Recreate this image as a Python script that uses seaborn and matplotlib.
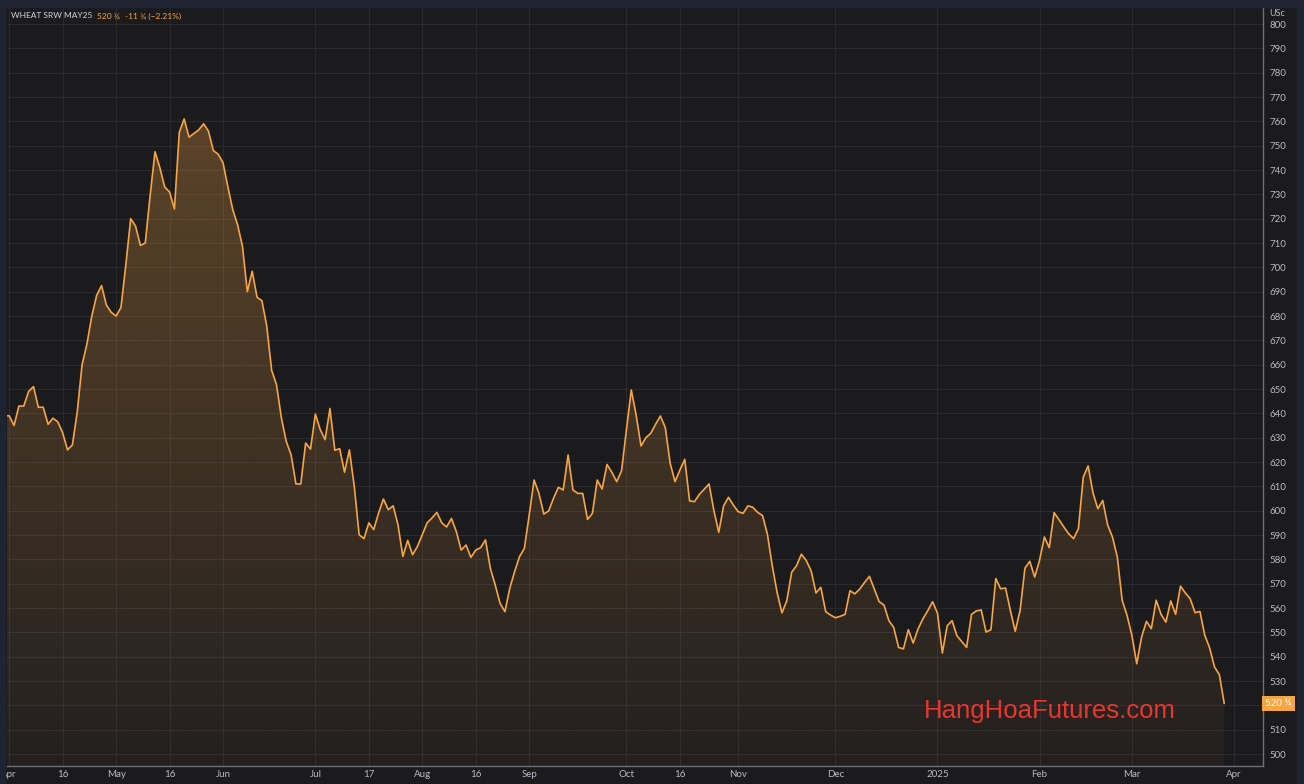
import numpy as np
import pandas as pd
import seaborn as sns
import matplotlib.pyplot as plt
from matplotlib.patches import Rectangle

# daily settlement, WHEAT SRW MAY25 (US cents), one value per trading session
mar_24 = [639]  # last session before the visible window
apr_24 = [639, 635, 643, 643, 649, 651, 642.5, 642.5, 635.5, 638, 636.5, 632, 625, 627, 640.5,
          660, 668.5, 680, 688.5, 692.5, 684.5, 681.5]
may_24 = [680, 683.5, 701, 720, 717, 709, 710, 729.5, 747.5, 741, 733, 731, 724, 755.5, 761,
          753.5, 755, 756.5, 759, 756, 748, 746.5]
jun_24 = [743, 733, 723.7, 717.5, 708.6, 690, 698.4, 687.7, 686.3, 675.8, 657.7, 651.8, 638.2,
          628.5, 623, 611, 611, 627.8, 625.3]
jul_24 = [639.7, 633.3, 629.2, 642, 624.8, 625.5, 615.8, 625, 610, 590.1, 588.5, 595, 592.2, 599,
          604.8, 600.4, 602, 594.2, 581.2, 587.8, 581.9, 585.3]
aug_24 = [590.1, 595, 597, 599.3, 595, 593.3, 596.8, 591.4, 583.8, 585.9, 580.8, 583.8, 584.8, 588,
          576.3, 569.5, 561.9, 558.5, 568.1, 575, 581.1, 584.5]
sep_24 = [598.2, 612.6, 607.1, 598.6, 599.9, 605.1, 609.6, 608.5, 622.9, 608.5, 607.1, 607.1,
          596.4, 598.9, 612.6, 608.9, 619, 615.8, 611.9, 616.4]
oct_24 = [633.2, 649.6, 639.3, 626.6, 630, 631.8, 635.5, 638.9, 634.1, 619.5, 611.9, 616.7, 621.1,
          604, 603.7, 606.7, 608.8, 611, 600, 591.1, 602, 605.5, 602.3]
nov_24 = [599.6, 598.9, 602, 601.4, 599.3, 598, 590.4, 577.4, 566.4, 558, 563, 574.7, 577.4, 582.1,
          579.5, 575.3, 566.2, 568.5, 558.5, 557.1]
dec_24 = [556, 556.6, 557.4, 567.1, 565.8, 567.8, 570.5, 573, 567.8, 562.6, 561.2, 554.8, 552,
          543.8, 543.2, 551.1, 545.6, 551.4, 555.5, 558.9, 562.6]
jan_25 = [557.9, 541.5, 552.7, 554.8, 548.6, 546.2, 543.8, 557.4, 558.8, 559.2, 550.1, 551.1, 572.1,
          567.9, 568.2, 559, 550.4, 559, 576.4, 579.2, 572.7]
feb_25 = [579.6, 589.2, 584.8, 599.2, 596.3, 593.3, 590.5, 588.5, 592.6, 613.8, 618.4, 607.3, 600.8,
          604.2, 594.2, 589.2, 581, 563.2, 557]
mar_25 = [548.8, 537.1, 548.1, 554.5, 551.5, 563.2, 557.4, 554.2, 562.9, 557.4, 569, 566.2, 563.8,
          558.1, 558.6, 548.8, 543.6, 535.8, 532.6, 520.75]

holidays = ['2024-03-29', '2024-05-27', '2024-06-19', '2024-07-04', '2024-09-02', '2024-11-28',
            '2024-12-25', '2025-01-01', '2025-01-20', '2025-02-17']
tick_dates = ['2024-04-01', '2024-04-16', '2024-05-01', '2024-05-16', '2024-06-03', '2024-07-01',
              '2024-07-17', '2024-08-01', '2024-08-16', '2024-09-03', '2024-10-01', '2024-10-16',
              '2024-11-01', '2024-12-02', '2025-01-02', '2025-02-03', '2025-03-03', '2025-04-01']
tick_labels = ['Apr', '16', 'May', '16', 'Jun', 'Jul', '17', 'Aug', '16', 'Sep', 'Oct', '16',
               'Nov', 'Dec', '2025', 'Feb', 'Mar', 'Apr']
y_ticks = list(range(500, 801, 10))
header = [('WHEAT SRW MAY25', '#d1d4dc'), ('520 ¾', '#f7a543'), ('-11 ¾ (−2.21%)', '#f7a543')]

prices = (mar_24 + apr_24 + may_24 + jun_24 + jul_24 + aug_24 + sep_24 + oct_24 + nov_24
          + dec_24 + jan_25 + feb_25 + mar_25)

# trading sessions (evenly spaced on the chart, like the original)
sessions = pd.bdate_range('2024-03-28', '2025-04-01')
sessions = sessions[~sessions.isin(pd.to_datetime(holidays))]
df = pd.DataFrame({'date': sessions[:len(prices)], 'price': prices})
df['session'] = np.arange(len(df))
tick_pos = sessions.searchsorted(pd.to_datetime(tick_dates))

BG = '#1b1b1e'
BORDER = '#1f2433'
ORANGE = '#f7a543'
GRID = '#2a2a2e'
TXT = '#b8bbc2'

sns.set_style('dark', rc={'axes.facecolor': BG, 'figure.facecolor': BG})
plt.rcParams['font.family'] = ['Lato', 'DejaVu Sans']

fig = plt.figure(figsize=(13.04, 7.84), dpi=100)
W, H = 1304, 784
ax = fig.add_axes([7 / W, 18 / H, (1263 - 7) / W, (766 - 7) / H])

xlim = (0.55, 258.98)
ylim = (495.07, 807.0)

sns.lineplot(data=df, x='session', y='price', color=ORANGE, lw=1.2, ax=ax, zorder=3)

# gradient fill under the line
poly = ax.fill_between(df['session'], df['price'], ylim[0] - 5, facecolor='none', edgecolor='none')
grad = np.zeros((256, 1, 4))
grad[:, 0, :3] = plt.matplotlib.colors.to_rgb(ORANGE)
grad[:, 0, 3] = np.linspace(0.04, 0.34, 256)
img = ax.imshow(grad, aspect='auto', origin='lower', extent=[xlim[0], xlim[1], ylim[0], ylim[1]],
                zorder=2, interpolation='bilinear')
img.set_clip_path(poly.get_paths()[0], transform=ax.transData)

ax.set_xlim(*xlim)
ax.set_ylim(*ylim)
ax.set_xticks(tick_pos)
ax.set_xticklabels(tick_labels)
ax.set_yticks(y_ticks)
# 520 sits under the last-price tag, as in the original
ax.set_yticklabels(['' if v == 520 else str(v) for v in y_ticks])
ax.yaxis.tick_right()
ax.set_xlabel('')
ax.set_ylabel('')
ax.grid(True, color=GRID, lw=0.8)
ax.tick_params(axis='both', length=0, labelsize=7, colors=TXT)
ax.tick_params(axis='y', pad=5)
ax.tick_params(axis='x', pad=3)
for lbl in ax.get_yticklabels():
    lbl.set_horizontalalignment('left')

for s in ['top', 'left']:
    ax.spines[s].set_visible(False)
for s in ['bottom', 'right']:
    ax.spines[s].set_visible(True)
    ax.spines[s].set_color('#6e6f74')
    ax.spines[s].set_linewidth(1.0)

# frame strips round the panel
fig.patches.append(Rectangle((0, 1 - 7 / H), 1, 7 / H, transform=fig.transFigure, color=BORDER, zorder=0))
fig.patches.append(Rectangle((0, 0), 5 / W, 1, transform=fig.transFigure, color=BORDER, zorder=0))
fig.patches.append(Rectangle((1297 / W, 0), 7 / W, 1, transform=fig.transFigure, color=BORDER, zorder=0))

# header, each piece placed after the previous one
renderer = fig.canvas.get_renderer()
x_px = 11
for txt, col in header:
    t = fig.text(x_px / W, 1 - 16 / H, txt, color=col, fontsize=6, va='center')
    x_px = t.get_window_extent(renderer).x1 + 5
fig.text(1269 / W, 1 - 14 / H, 'USc', color=TXT, fontsize=6.5, va='center')

# last price tag
last = prices[-1]
ax.annotate('520 ¾', xy=(1.0, last), xycoords=('axes fraction', 'data'), xytext=(1.5, 0),
            textcoords='offset points', va='center', ha='left', fontsize=7, color='white',
            bbox=dict(boxstyle='square,pad=0.35', fc=ORANGE, ec='none'), annotation_clip=False)

# watermark
fig.text(1050 / W, 1 - 711 / H, 'HangHoaFutures.com', color='#e8362d', fontsize=18.5,
         family=['Liberation Sans', 'DejaVu Sans'], ha='center', va='center')

fig.savefig('out.png', dpi=100, facecolor=fig.get_facecolor())
